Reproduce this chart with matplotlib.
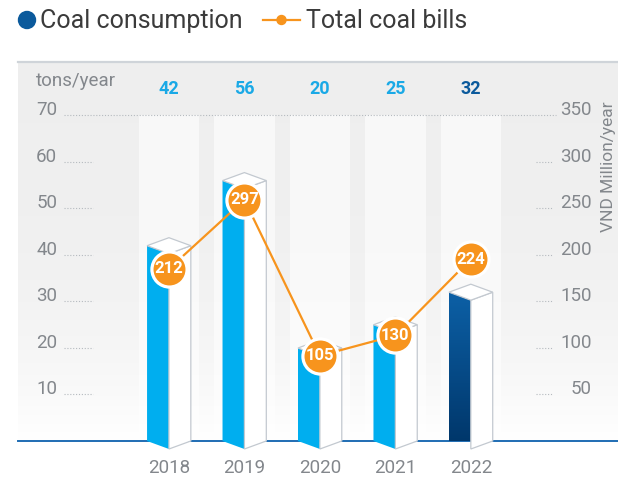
import matplotlib.pyplot as plt
import numpy as np
from matplotlib.patches import Polygon, Circle, Rectangle

plt.rcParams['font.family'] = ['Roboto', 'DejaVu Sans']

years = ['2018', '2019', '2020', '2021', '2022']
consumption = [42, 56, 20, 25, 32]          # tons/year
bills = [212, 297, 105, 130, 224]           # VND million/year
left_ticks = [10, 20, 30, 40, 50, 60, 70]
right_ticks = [50, 100, 150, 200, 250, 300, 350]

LIGHT_BLUE = '#00aeef'
DARK_BLUE = '#0b5a9c'
ORANGE = '#f7941d'
GREY = '#83878c'
EDGE = '#c3c9d0'

W, H = 618, 479
fig = plt.figure(figsize=(W / 100, H / 100), dpi=100)

# main panel (bars, left scale)
ax = fig.add_axes([18 / W, 1 - 441 / H, 600 / W, 379 / H])
x0, x1, y1 = -2.0, 5.95, 81.5
ax.set_xlim(x0, x1)
ax.set_ylim(0, y1)
ax.axis('off')

# soft grey background fading to white
t = np.linspace(0, 1, 256)
shade = 0.937 + 0.063 * t ** 3
bg = np.dstack([shade, shade, shade])[0][:, None, :]
ax.imshow(bg, extent=(x0, x1, 0, y1), aspect='auto', zorder=0,
          interpolation='bicubic')
ax.plot([x0, x1], [y1, y1], color='#cfd4d9', lw=1.6, clip_on=False, zorder=1)

xs = np.arange(len(years))

# lighter columns behind the bars
for i in xs:
    ax.add_patch(Rectangle((i - 0.40, 0), 0.80, 70, color='white', alpha=0.6,
                           lw=0, zorder=1))

# dotted tick guides and labels
dot = dict(color='#b5babf', lw=0.8, linestyle=(0, (1, 1.6)), zorder=1)
for v in left_ticks:
    if v == 70:
        ax.plot([-1.39, 5.13], [v, v], **dot)
    else:
        ax.plot([-1.39, -1.0], [v, v], **dot)
        ax.plot([4.87, 5.09], [v, v], **dot)
    ax.text(-1.76, v, str(v), ha='left', va='baseline', fontsize=13.5, color=GREY)
for v in right_ticks:
    ax.text(5.60, v / 5, str(v), ha='right', va='baseline', fontsize=13.5,
            color=GREY)

ax.text(-1.76, 77.4, 'tons/year', ha='left', va='center', fontsize=13.5,
        color=GREY)

# baseline
ax.plot([x0, x1], [0, 0], color='#1f6db3', lw=1.4, zorder=2, clip_on=False)

# pseudo-3D bars
w, d = 0.29, 1.72
for i, v in zip(xs, consumption):
    left = Polygon([(i - w, 0), (i - w, v), (i, v - d), (i, -d)],
                   closed=True, lw=0, zorder=3, clip_on=False)
    if years[i] == '2022':
        left.set_facecolor('none')
        ax.add_patch(left)
        g = np.linspace(0, 1, 128)
        top_c = np.array([0x0c, 0x60, 0xa6]) / 255
        bot_c = np.array([0x00, 0x35, 0x68]) / 255
        img = (top_c[None, :] * (1 - g[:, None]) + bot_c[None, :] * g[:, None])
        im = ax.imshow(img[:, None, :], extent=(i - w, i, -d, v), aspect='auto',
                       zorder=3, interpolation='bicubic')
        im.set_clip_path(left)
    else:
        left.set_facecolor(LIGHT_BLUE)
        ax.add_patch(left)
    ax.add_patch(Polygon([(i, -d), (i, v - d), (i + w, v), (i + w, 0)],
                         closed=True, facecolor='white', edgecolor=EDGE,
                         lw=0.9, zorder=3, clip_on=False))
    ax.add_patch(Polygon([(i - w, v), (i, v + d), (i + w, v), (i, v - d)],
                         closed=True, facecolor='white', edgecolor=EDGE,
                         lw=0.9, zorder=4, clip_on=False))
    ax.text(i, 75.6, str(v), ha='center', va='center', fontsize=13,
            fontweight='bold', color=DARK_BLUE if years[i] == '2022' else '#1aa9e6')
    ax.text(i, -5.9, years[i], ha='center', va='center', fontsize=13.5,
            color=GREY, clip_on=False)

# coal bills line on its own scale
ax2 = ax.twinx()
ax2.set_ylim(0, 466.7)
ax2.axis('off')
ax2.plot(xs, bills, color=ORANGE, lw=1.6, zorder=2)
ax2.scatter(xs, bills, s=640, color=ORANGE, edgecolor='white', linewidth=2.3,
            zorder=3)
for i, b in zip(xs, bills):
    ax2.text(i, b, str(b), ha='center', va='center', fontsize=12,
             fontweight='bold', color='white', zorder=4)

# legend and right axis title in pixel space
ov = fig.add_axes([0, 0, 1, 1])
ov.set_xlim(0, W)
ov.set_ylim(H, 0)
ov.axis('off')
ov.add_patch(Circle((27, 20), 8.5, color=DARK_BLUE))
ov.text(40, 21, 'Coal consumption', ha='left', va='center', fontsize=18,
        color='#3b3b3b')
ov.plot([263, 300], [20, 20], color=ORANGE, lw=1.6)
ov.add_patch(Circle((281.5, 20), 4.5, color=ORANGE))
ov.text(306, 21, 'Total coal bills', ha='left', va='center', fontsize=18,
        color='#3b3b3b')
ov.text(609, 167, 'VND Million/year', ha='center', va='center', rotation=90,
        fontsize=12.5, color=GREY)

fig.savefig('out.png', dpi=100)
